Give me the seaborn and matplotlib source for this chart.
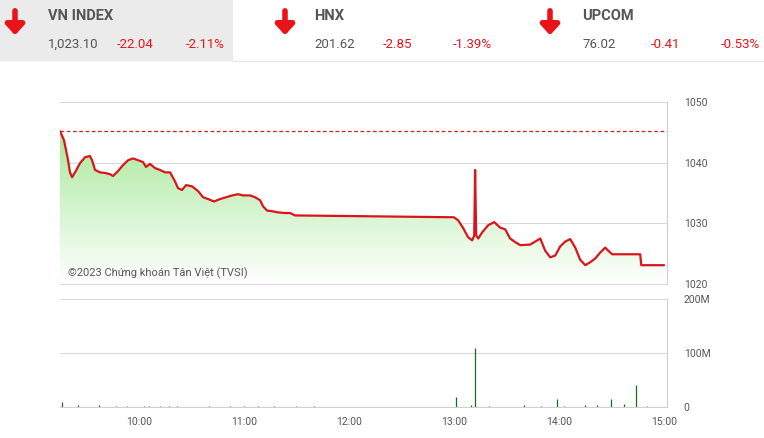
import numpy as np
import pandas as pd
import seaborn as sns
from matplotlib import pyplot as plt
from matplotlib.path import Path
from matplotlib.patches import PathPatch

# minutes since 9:00 and index level
price_min = [15, 17.3, 19.6, 20.7, 21.9, 23.6, 26.4, 29.3, 32.1, 33.3, 35, 37.9, 40.7,
             43.6, 45.3, 48.1, 51, 53.9, 56.7, 59.6, 62.4, 64.1, 66.4, 69.3, 72.1, 75,
             77.9, 80.7, 82.4, 84.7, 87, 90.4, 93.9, 96.7, 99.6, 103, 106.4, 109.9,
             113.3, 116.7, 119.6, 123.6, 126.4, 129.3, 131, 133.3, 136.1, 139.6, 143.6,
             146.4, 149.3, 150, 240, 242.4, 245.3, 248.1, 250.4, 251.6, 252.1, 252.7,
             253.9, 256.1, 259.6, 263, 266.4, 269.3, 272.1, 275, 277.9, 283.6, 287.6,
             289.3, 292.1, 295, 297.9, 300.7, 303.6, 306.4, 309.3, 312.1, 315, 317.9,
             320.7, 323.6, 326.4, 328.1, 330.4, 346.4, 347, 360]
price_val = [1045.2, 1043.7, 1040.4, 1038.4, 1037.6, 1038.4, 1039.9, 1040.9, 1041.1,
             1040.4, 1038.8, 1038.4, 1038.3, 1038.1, 1037.8, 1038.6, 1039.6, 1040.4,
             1040.7, 1040.4, 1040.1, 1039.3, 1039.8, 1039.1, 1038.8, 1038.4, 1038.4,
             1036.9, 1035.8, 1035.5, 1036.3, 1036.1, 1035.3, 1034.3, 1034.0, 1033.6,
             1034.0, 1034.3, 1034.6, 1034.8, 1034.6, 1034.6, 1034.3, 1033.8, 1032.8,
             1032.1, 1032.0, 1031.8, 1031.7, 1031.7, 1031.3, 1031.3, 1031.0, 1030.5,
             1029.2, 1027.7, 1027.2, 1028.0, 1038.8, 1028.0, 1027.5, 1028.5, 1029.7,
             1030.2, 1029.3, 1029.0, 1027.5, 1026.9, 1026.4, 1026.5, 1027.2, 1027.5,
             1025.5, 1024.4, 1024.7, 1026.2, 1027.0, 1027.4, 1026.0, 1024.0, 1023.1,
             1023.6, 1024.2, 1025.2, 1026.0, 1025.5, 1024.9, 1024.9, 1023.1, 1023.1]
ref_level = 1045.14

vol_min = [16, 25, 37, 47, 53, 63, 66, 72, 77, 82, 100, 112, 120, 128, 137, 150, 160,
           241, 250, 252.1, 260, 280, 290, 299, 303, 315, 322, 330, 337, 344, 350]
vol_val = [10, 3, 3, 2, 2, 2, 2, 2, 2, 2, 2, 2, 2, 2, 2, 2, 2,
           18, 3, 109, 2, 3, 2, 14, 2, 3, 4, 14, 5, 40, 2]

headers = [("VN INDEX", "1,023.10", "-22.04", "-2.11%"),
           ("HNX", "201.62", "-2.85", "-1.39%"),
           ("UPCOM", "76.02", "-0.41", "-0.53%")]
tick_min = [60, 120, 180, 240, 300, 360]
tick_lab = ["10:00", "11:00", "12:00", "13:00", "14:00", "15:00"]

sns.set_style("white")
plt.rcParams['font.family'] = ['Roboto', 'DejaVu Sans']
W, H = 764, 438
fig = plt.figure(figsize=(W / 100, H / 100), dpi=100)

# header strip
hdr = fig.add_axes([0, 0, 1, 1], zorder=-1)
hdr.set_xlim(0, W)
hdr.set_ylim(H, 0)
hdr.axis("off")
hdr.add_patch(plt.Rectangle((0, 0), 233, 61, color="#ebebeb", lw=0))
hdr.plot([233, W], [61, 61], color="#e6e6e6", lw=1)
arrow_x = [15, 285, 550]
text_x = [48, 314, 582]
pct_x = [225, 492, 760]
for i, (name, val, chg, pct) in enumerate(headers):
    a, t = arrow_x[i], text_x[i]
    hdr.annotate("", xy=(a, 38), xytext=(a, 8),
                 arrowprops=dict(arrowstyle="-|>,head_width=0.55,head_length=0.6",
                                 color="#e8141a", lw=4))
    hdr.text(t, 16, name, fontsize=10.5, fontweight="bold", color="#555555",
             va="center")
    hdr.text(t, 44, val, fontsize=9.5, color="#555555", va="center")
    hdr.text(t + 69, 44, chg, fontsize=9.5, color="#e8141a", va="center")
    hdr.text(pct_x[i], 44, pct, fontsize=9.5, color="#e8141a", va="center", ha="right")

x_lo, x_hi = 15, 361.7

# price chart
ax = fig.add_axes([60 / W, 1 - 284 / H, 607 / W, 182 / H])
df = pd.DataFrame({"t": price_min, "v": price_val})
ymin, ymax = 1020, 1050
verts = list(zip(price_min, price_val)) + [(price_min[-1], ymin), (price_min[0], ymin)]
poly = PathPatch(Path(verts + [verts[0]], closed=True), facecolor="none", edgecolor="none")
ax.add_patch(poly)
grad = np.linspace(1, 0, 256).reshape(-1, 1)
cmap = sns.blend_palette(["#ffffff", "#a8e89a"], as_cmap=True)
img = ax.imshow(grad, extent=[x_lo, x_hi, ymin, 1045.5], aspect="auto", cmap=cmap,
                origin="upper", zorder=1)
img.set_clip_path(poly)
ax.axhline(ref_level, color="#d42020", lw=0.9, ls=(0, (3, 2)), zorder=2)
sns.lineplot(data=df, x="t", y="v", ax=ax, color="#d9151b", lw=1.6, zorder=3)
ax.set_xlim(x_lo, x_hi)
ax.set_ylim(ymin, ymax)
ax.set_yticks([1020, 1030, 1040, 1050])
ax.yaxis.tick_right()
ax.tick_params(axis="y", labelsize=7.5, colors="#555555", length=0, pad=12)
ax.set_xticks([])
ax.set_xlabel("")
ax.set_ylabel("")
ax.grid(axis="y", color="#d9d9d9", lw=0.8)
for s in ["top", "left"]:
    ax.spines[s].set_visible(False)
ax.spines["right"].set_color("#d0d0d0")
ax.spines["bottom"].set_color("#d9d9d9")
ax.text(8 / 607, 0.06, "©2023 Chứng khoán Tân Việt (TVSI)", fontsize=8,
        color="#555555", transform=ax.transAxes, va="center")

# volume chart
vx = fig.add_axes([60 / W, 1 - 407 / H, 607 / W, 108 / H])
vx.vlines(vol_min, 0, vol_val, color="#1a6b1a", lw=0.9)
vx.set_xlim(x_lo, x_hi)
vx.set_ylim(0, 200)
vx.set_yticks([0, 100, 200])
vx.set_yticklabels(["0", "100M", "200M"])
vx.yaxis.tick_right()
vx.tick_params(axis="y", labelsize=7.5, colors="#555555", length=0, pad=12)
vx.set_xticks(tick_min)
vx.set_xticklabels(tick_lab)
vx.tick_params(axis="x", labelsize=7.5, colors="#555555", length=4, color="#9ab")
vx.grid(axis="y", color="#d9d9d9", lw=0.8)
for s in ["top", "left"]:
    vx.spines[s].set_visible(False)
vx.spines["right"].set_color("#d0d0d0")
vx.spines["bottom"].set_color("#d0d0d0")

fig.savefig("out.png", dpi=100)
